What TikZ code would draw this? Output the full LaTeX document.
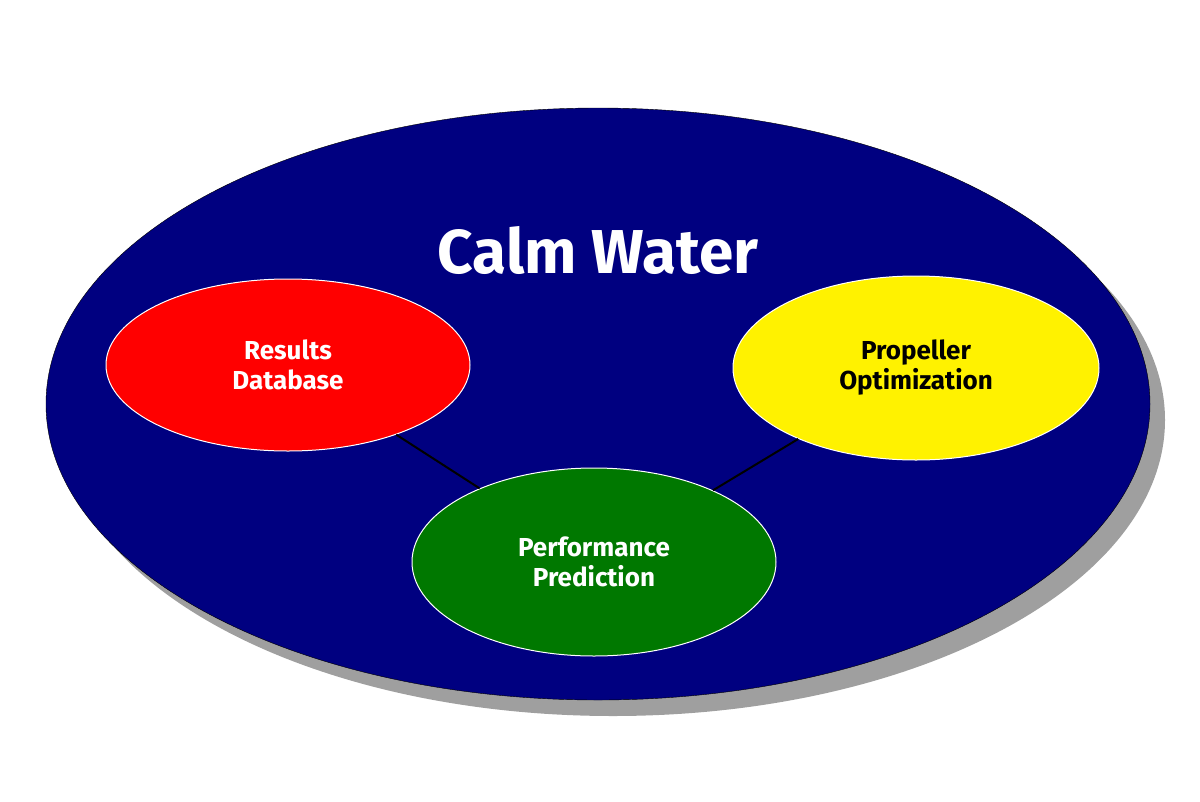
\documentclass[tikz,border=0pt]{standalone}
\usepackage{fontspec}
\setmainfont{Fira Sans}
\usetikzlibrary{shapes.geometric}
\begin{document}
\begin{tikzpicture}[x=1pt,y=-1pt,
  oval/.style={ellipse,draw=white,line width=1pt,inner sep=0pt,align=center,font=\bfseries\fontsize{26}{30}\selectfont}]
\useasboundingbox (0,0) rectangle (1200,801);
\fill[gray!75] (613,420) ellipse [x radius=552, y radius=296];
\node[ellipse,fill={rgb,255:red,0;green,0;blue,128},draw=black,minimum width=1104pt,minimum height=592pt] (big) at (598,404) {};
\node[text=white,font=\bfseries\fontsize{62}{70}\selectfont] (title) at (598,250) {Calm Water};
\node[oval,fill=red,text=white,minimum width=364pt,minimum height=172pt] (res) at (288,365) {Results\\Database};
\node[oval,fill=yellow,text=black,minimum width=366pt,minimum height=184pt] (prop) at (916,368) {Propeller\\Optimization};
\node[oval,fill={rgb,255:red,0;green,120;blue,0},text=white,minimum width=364pt,minimum height=188pt] (perf) at (594,562) {Performance\\Prediction};
\draw[line width=2pt] (res) -- (perf);
\draw[line width=2pt] (prop) -- (perf);
\end{tikzpicture}
\end{document}
